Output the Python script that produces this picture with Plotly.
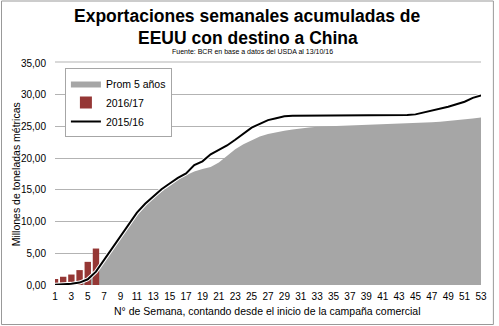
import plotly.graph_objects as go

weeks = list(range(1, 54))
week_labels = [str(w) for w in range(1, 54, 2)]

prom_5_anos = [0.03, 0.08, 0.15, 0.3, 0.75, 1.9, 3.7, 5.5, 7.3, 9.1,
               10.9, 12.4, 13.7, 14.7, 15.7, 16.6, 17.3, 17.9, 18.3, 18.6,
               19.3, 20.4, 21.4, 22.2, 22.8, 23.4, 23.8, 24.1, 24.3, 24.5,
               24.7, 24.85, 24.95, 25.0, 25.0, 25.05, 25.1, 25.1, 25.15, 25.2,
               25.25, 25.3, 25.35, 25.4, 25.5, 25.55, 25.65, 25.75, 25.85, 25.95,
               26.1, 26.25, 26.4]

campana_1516 = [0.05, 0.1, 0.18, 0.38, 0.9, 2.1, 4.0, 5.8, 7.6, 9.5,
                11.4, 12.8, 14.0, 15.1, 16.0, 16.9, 17.6, 18.9, 19.5, 20.6,
                21.3, 22.0, 22.9, 23.9, 24.8, 25.4, 26.0, 26.3, 26.6, 26.7,
                26.7, 26.7, 26.7, 26.7, 26.7, 26.7, 26.7, 26.7, 26.7, 26.7,
                26.75, 26.75, 26.8, 26.8, 26.9, 27.2, 27.5, 27.7, 28.1, 28.5,
                28.9, 29.5, 29.9]

weeks_1617 = [1, 2, 3, 4, 5, 6]
campana_1617 = [0.95, 1.3, 1.65, 2.35, 3.65, 5.75]

FONT = "Liberation Sans, Arial, sans-serif"

fig = go.Figure()
fig.add_trace(go.Scatter(
    x=weeks, y=prom_5_anos, name="Prom 5 años", mode="lines",
    fill="tozeroy", fillcolor="#a6a6a6", line=dict(width=0, color="#a6a6a6"),
    xaxis="x", yaxis="y"))
fig.add_trace(go.Bar(
    x=weeks_1617, y=campana_1617, name="2016/17", marker=dict(color="#953735", line=dict(width=0)),
    width=0.78, xaxis="x2", yaxis="y"))
fig.add_trace(go.Scatter(
    x=weeks, y=campana_1516, mode="lines", showlegend=False, hoverinfo="skip",
    line=dict(color="white", width=4), xaxis="x2", yaxis="y"))
fig.add_trace(go.Scatter(
    x=weeks, y=campana_1516, name="2015/16", mode="lines",
    line=dict(color="black", width=2), xaxis="x2", yaxis="y"))

L, R, T, B = 55, 14, 63, 41
W, H = 499, 326
pw, ph = W - L - R, H - T - B

def px(x):
    return (x - L) / pw

def py(y):
    return (H - B - y) / ph

fig.update_layout(
    width=W, height=H,
    margin=dict(l=L, r=R, t=T, b=B, pad=0),
    paper_bgcolor="white", plot_bgcolor="white",
    separators=",.",
    font=dict(family=FONT, size=10, color="black"),
    barmode="overlay",
    xaxis=dict(range=[1, 53], tickmode="array", tickvals=list(range(1, 54, 2)),
               ticktext=week_labels, showgrid=False, zeroline=False, showline=False,
               ticks="", tickfont=dict(size=10), ticklabelstandoff=4, fixedrange=True),
    xaxis2=dict(range=[1, 53], overlaying="x", side="top", showticklabels=False,
                showgrid=False, zeroline=False, showline=True, linecolor="#d9d9d9",
                linewidth=2, ticks=""),
    yaxis=dict(range=[0, 35], dtick=5, tickformat=".2f", showgrid=True,
               gridcolor="#b3b3b3", gridwidth=1, zeroline=False, showline=False,
               ticks="", tickfont=dict(size=10), ticklabelstandoff=8),
    legend=dict(x=px(65), y=py(68), xanchor="left", yanchor="top",
                bgcolor="white", bordercolor="#a6a6a6", borderwidth=1,
                font=dict(size=10.5, family=FONT), traceorder="normal",
                tracegroupgap=0, itemwidth=30),
    showlegend=True,
)

fig.add_annotation(text="<b>Exportaciones semanales acumuladas de</b>", x=px(249.5), y=py(16),
                   xref="paper", yref="paper", showarrow=False, font=dict(size=17.5, family=FONT),
                   xanchor="center", yanchor="middle")
fig.add_annotation(text="<b>EEUU con destino a China</b>", x=px(249.5), y=py(38),
                   xref="paper", yref="paper", showarrow=False, font=dict(size=17.5, family=FONT),
                   xanchor="center", yanchor="middle")
fig.add_annotation(text="Fuente: BCR en base a datos del USDA al 13/10/16", x=px(254), y=py(51),
                   xref="paper", yref="paper", showarrow=False, font=dict(size=7, family=FONT),
                   xanchor="center", yanchor="middle")
fig.add_annotation(text="Millones de toneladas métricas", x=px(16), y=0.5, textangle=-90,
                   xref="paper", yref="paper", showarrow=False, font=dict(size=10.5, family=FONT),
                   xanchor="center", yanchor="middle")
fig.add_annotation(text="N° de Semana, contando desde el inicio de la campaña comercial",
                   x=px(269.5), y=py(311), xref="paper", yref="paper", showarrow=False,
                   font=dict(size=10.5, family=FONT), xanchor="center", yanchor="middle")

fig.add_shape(type="rect", xref="paper", yref="paper",
              x0=px(1), x1=px(497.5), y0=py(324.5), y1=py(1),
              line=dict(color="#999999", width=1), fillcolor="rgba(0,0,0,0)", layer="above")

fig.write_html("out.html")
